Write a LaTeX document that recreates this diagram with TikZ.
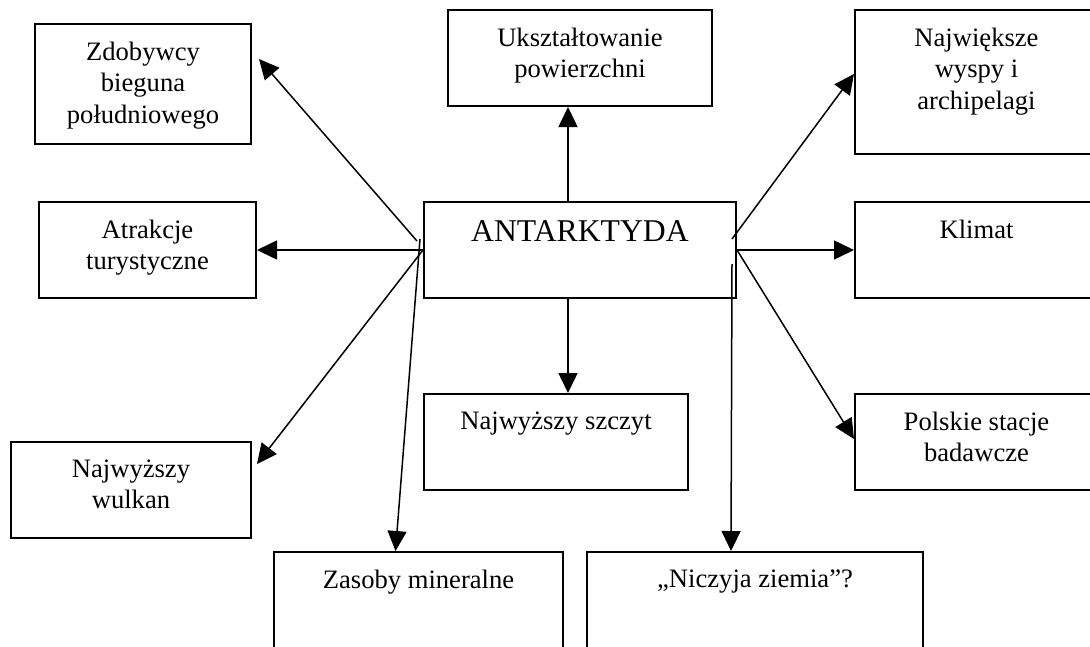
\documentclass[tikz,border=0pt]{standalone}
\usepackage{fontspec}
\setmainfont{Liberation Serif}
\usetikzlibrary{arrows.meta}

\begin{document}
\begin{tikzpicture}[x=1pt,y=-1pt,
    box/.style={draw,line width=2pt,anchor=north west,inner sep=0pt},
    txt/.style={anchor=north,align=center,inner sep=0pt,yshift=-18.4pt,font={\fontsize{26.6}{31.7}\selectfont}},
    bigtxt/.style={anchor=north,inner sep=0pt,yshift=-19.7pt,font={\fontsize{31.7}{38}\selectfont}},
    arr/.style={line width=1.5pt,-{Triangle[length=20pt,width=19pt]}}]
    \useasboundingbox (0,0) rectangle (1090,646);
    \clip (0,0) rectangle (1090,646);
    \node[box,minimum width=312pt,minimum height=96pt,label={[bigtxt]north:ANTARKTYDA}] (ant) at (423,201) {};
    \node[box,minimum width=216pt,minimum height=120pt,label={[txt]north:Zdobywcy\\bieguna\\południowego}] (zdob) at (34,23) {};
    \node[box,minimum width=217pt,minimum height=96pt,label={[txt]north:Atrakcje\\turystyczne}] (atrak) at (38,201) {};
    \node[box,minimum width=240pt,minimum height=96pt,label={[txt]north:Najwyższy\\wulkan}] (wulk) at (10,441) {};
    \node[box,minimum width=264pt,minimum height=96pt,label={[txt]north:Ukształtowanie\\powierzchni}] (uksz) at (447,9) {};
    \node[box,minimum width=264pt,minimum height=96pt,label={[txt]north:Najwyższy szczyt}] (szcz) at (423,393) {};
    \node[box,minimum width=243pt,minimum height=144pt,label={[txt]north:Największe\\wyspy i\\archipelagi}] (najw) at (854,9) {};
    \node[box,minimum width=243pt,minimum height=96pt,label={[txt]north:Klimat}] (klim) at (854,201) {};
    \node[box,minimum width=243pt,minimum height=96pt,label={[txt]north:Polskie stacje\\badawcze}] (pols) at (854,393) {};
    \node[box,minimum width=289pt,minimum height=130pt,label={[txt]north:Zasoby mineralne}] (zas) at (273,551) {};
    \node[box,minimum width=336pt,minimum height=130pt,label={[txt]north:„Niczyja ziemia”?}] (nicz) at (586,551) {};
    \draw[arr] ([xshift=-12pt]ant.north) -- ([xshift=-12pt]uksz.south);
    \draw[arr] ([xshift=-12pt]ant.south) -- ([xshift=12pt]szcz.north);
    \draw[arr] ([xshift=-6pt,yshift=9pt]ant.west) -- ([xshift=7pt,yshift=25pt]zdob.east);
    \draw[arr] (ant.west) -- (atrak.east);
    \draw[arr] (ant.west) -- ([xshift=5pt,yshift=26pt]wulk.east);
    \draw[arr] ([xshift=-3pt,yshift=11pt]ant.west) -- ([xshift=-23pt]zas.north);
    \draw[arr] ([xshift=-5pt,yshift=11pt]ant.east) -- ([yshift=8pt]najw.west);
    \draw[arr] (ant.east) -- (klim.west);
    \draw[arr] (ant.east) -- ([yshift=3pt]pols.west);
    \draw[arr] ([xshift=-5pt,yshift=-14pt]ant.east) -- ([xshift=-24pt]nicz.north);
\end{tikzpicture}
\end{document}
